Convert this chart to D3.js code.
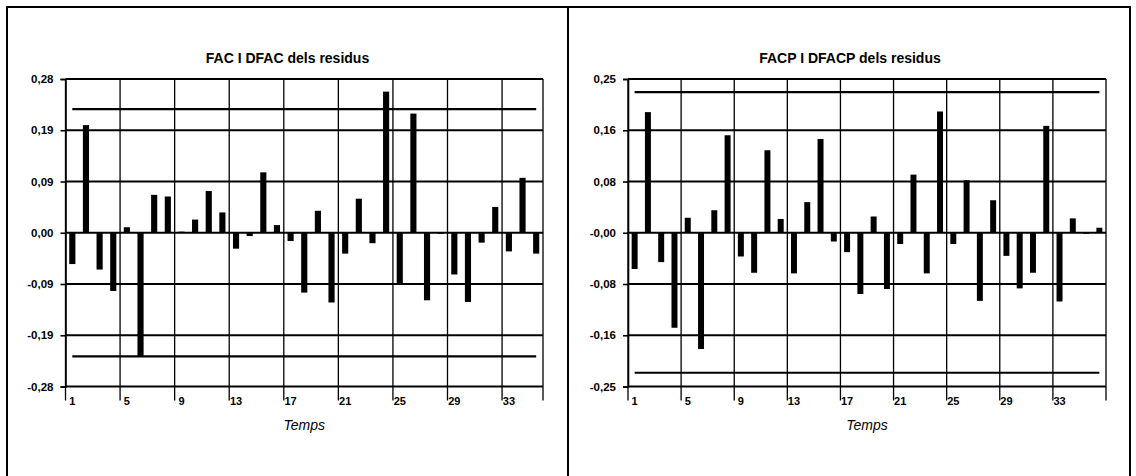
<!DOCTYPE html>
<html>
<head>
<meta charset="utf-8">
<script src="https://cdn.jsdelivr.net/npm/d3@7"></script>
<style>
  html, body { margin: 0; padding: 0; background: #fff; }
  svg { display: block; }
  text { font-family: "Liberation Sans", Arial, sans-serif; fill: #000; }
</style>
</head>
<body>
<svg id="chart" width="1136" height="476"></svg>
<script>
// ---------- data ----------
const lagsFAC  = d3.range(1, 36);   // 1..35
const lagsFACP = d3.range(1, 37);   // 1..36

const facValues = [-0.057, 0.196, -0.067, -0.106, 0.010, -0.225, 0.069, 0.066, 0.002, 0.024,
                    0.076, 0.037, -0.029, -0.006, 0.110, 0.014, -0.015, -0.109, 0.040, -0.127,
                   -0.038, 0.062, -0.019, 0.257, -0.094, 0.217, -0.123, 0.000, -0.076, -0.126,
                   -0.018, 0.047, -0.034, 0.100, -0.038];

const facpValues = [-0.058, 0.193, -0.047, -0.152, 0.024, -0.186, 0.036, 0.156, -0.038, -0.064,
                     0.132, 0.022, -0.065, 0.049, 0.150, -0.014, -0.031, -0.098, 0.026, -0.090,
                    -0.018, 0.093, -0.065, 0.194, -0.018, 0.084, -0.109, 0.052, -0.037, -0.089,
                    -0.064, 0.171, -0.110, 0.023, 0.000, 0.008];

const bandFAC  = [0.225, -0.225];
const bandFACP = [0.225, -0.224];

const yTicksFAC   = [0.28, 0.1867, 0.0933, 0, -0.0933, -0.1867, -0.28];
const yLabelsFAC  = ["0,28", "0,19", "0,09", "0,00", "-0,09", "-0,19", "-0,28"];
const yTicksFACP  = [0.246, 0.164, 0.082, 0, -0.082, -0.164, -0.246];
const yLabelsFACP = ["0,25", "0,16", "0,08", "-0,00", "-0,08", "-0,16", "-0,25"];

const xTickLags = [1, 5, 9, 13, 17, 21, 25, 29, 33];

const titles = ["FAC I DFAC dels residus", "FACP I DFACP dels residus"];
const xTitle = "Temps";

// ---------- drawing ----------
const svg = d3.select("#chart");

// panel frames
svg.append("rect").attr("x", 7).attr("y", 7).attr("width", 561).attr("height", 480)
  .attr("fill", "none").attr("stroke", "#000").attr("stroke-width", 2);
svg.append("rect").attr("x", 568).attr("y", 7).attr("width", 562).attr("height", 480)
  .attr("fill", "none").attr("stroke", "#000").attr("stroke-width", 2);

function drawChart(cfg) {
  const g = svg.append("g");
  const x = d3.scaleBand().domain(cfg.lags).range([cfg.x0, cfg.x1]).padding(0);
  const y = d3.scaleLinear().domain([cfg.yTicks[cfg.yTicks.length - 1], cfg.yTicks[0]])
              .range([cfg.yBottom, cfg.yTop]);
  const bw = x.bandwidth();

  // title
  g.append("text").attr("x", cfg.titleX).attr("y", 63).attr("text-anchor", "middle")
    .attr("font-size", 14).attr("font-weight", "bold").text(cfg.title);

  // vertical gridlines (category boundaries every 4 lags) + right edge, with ticks below
  const vLines = xTickLags.filter(l => l <= cfg.lags.length).map(l => x(l)).concat([cfg.x1]);
  g.selectAll(".vgrid").data(vLines).join("line")
    .attr("x1", d => d).attr("x2", d => d)
    .attr("y1", cfg.yTop).attr("y2", cfg.yBottom + 14)
    .attr("stroke", "#000").attr("stroke-width", 1.3);

  // horizontal gridlines
  g.selectAll(".hgrid").data(cfg.yTicks).join("line")
    .attr("x1", cfg.x0).attr("x2", cfg.x1)
    .attr("y1", d => y(d)).attr("y2", d => y(d))
    .attr("stroke", "#000").attr("stroke-width", 2.2);

  // y axis
  const yAxis = d3.axisLeft(y).tickValues(cfg.yTicks)
    .tickFormat((d, i) => cfg.yLabels[i]).tickSize(5).tickPadding(7);
  const ya = g.append("g").attr("transform", `translate(${cfg.x0},0)`).call(yAxis);
  ya.select(".domain").attr("stroke", "#000").attr("stroke-width", 1.6);
  ya.selectAll(".tick line").attr("stroke", "#000").attr("stroke-width", 1.6);
  ya.selectAll(".tick text").attr("font-size", 11.5).attr("font-weight", "bold")
    .attr("font-family", "'Liberation Sans', Arial, sans-serif").attr("fill", "#000");

  // x labels
  g.selectAll(".xlab").data(xTickLags.filter(l => l <= cfg.lags.length)).join("text")
    .attr("x", d => x(d) + bw / 2).attr("y", 405).attr("text-anchor", "middle")
    .attr("font-size", 11).attr("font-weight", "bold").text(d => d);

  // x title
  g.append("text").attr("x", (cfg.x0 + cfg.x1) / 2).attr("y", 430)
    .attr("text-anchor", "middle").attr("font-size", 14).attr("font-style", "italic")
    .text(xTitle);

  // bars
  const barW = bw * 0.45;
  g.selectAll(".bar").data(cfg.values).join("rect")
    .attr("x", (d, i) => x(cfg.lags[i]) + (bw - barW) / 2)
    .attr("width", barW)
    .attr("y", d => y(Math.max(0, d)))
    .attr("height", d => Math.max(1, Math.abs(y(d) - y(0))))
    .attr("fill", "#000");

  // confidence band lines
  const first = cfg.lags[0], last = cfg.lags[cfg.lags.length - 1];
  g.selectAll(".band").data(cfg.band).join("line")
    .attr("x1", x(first) + bw / 2).attr("x2", x(last) + bw / 2)
    .attr("y1", d => y(d)).attr("y2", d => y(d))
    .attr("stroke", "#000").attr("stroke-width", 2.2);
}

drawChart({
  lags: lagsFAC, values: facValues, band: bandFAC,
  yTicks: yTicksFAC, yLabels: yLabelsFAC, title: titles[0],
  x0: 65.5, x1: 543, yTop: 79, yBottom: 386.5, titleX: 287.5
});
drawChart({
  lags: lagsFACP, values: facpValues, band: bandFACP,
  yTicks: yTicksFACP, yLabels: yLabelsFACP, title: titles[1],
  x0: 628, x1: 1106, yTop: 79, yBottom: 386.5, titleX: 850
});
</script>
</body>
</html>
